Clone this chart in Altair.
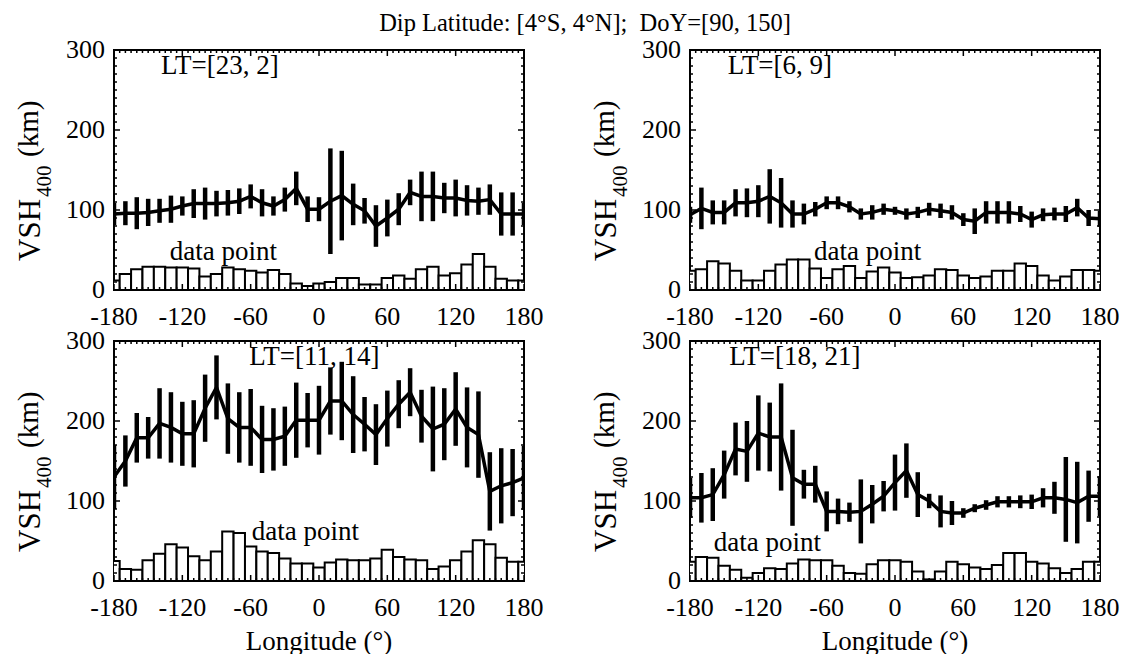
import altair as alt
import pandas as pd

FONT = "Liberation Serif"
W, H = 410, 240

lon = list(range(-180, 181, 10))

# LT=[23, 2]
vsh_a = [95, 96, 96, 97, 99, 101, 105, 108, 108, 108, 109, 111, 117, 109, 105, 113, 127, 101, 101,
         111, 118, 107, 99, 80, 90, 101, 122, 117, 117, 115, 115, 112, 111, 113, 95, 95, 95]
err_a = [14, 15, 20, 17, 15, 17, 12, 18, 20, 16, 16, 16, 15, 17, 12, 15, 21, 16, 15,
         66, 56, 26, 16, 26, 23, 20, 16, 31, 31, 19, 23, 19, 17, 19, 27, 27, 14]
cnt_a = [12, 20, 26, 29, 29, 28, 28, 27, 17, 20, 28, 26, 24, 22, 25, 20, 8, 5, 8,
         10, 15, 15, 7, 7, 15, 18, 14, 26, 29, 18, 21, 32, 45, 29, 14, 12, 12]

# LT=[6, 9]
vsh_b = [94, 102, 97, 97, 109, 109, 111, 117, 109, 95, 95, 101, 109, 109, 104, 95, 97, 101, 99,
         95, 97, 101, 99, 97, 88, 86, 97, 97, 97, 95, 88, 94, 95, 95, 103, 90, 89]
err_b = [10, 26, 15, 15, 17, 18, 20, 34, 31, 17, 13, 9, 8, 8, 7, 7, 9, 7, 5,
         7, 7, 8, 9, 9, 8, 16, 14, 14, 14, 10, 10, 8, 8, 10, 11, 10, 10]
cnt_b = [24, 26, 36, 33, 24, 12, 12, 24, 32, 38, 38, 27, 15, 26, 30, 15, 23, 28, 22,
         15, 16, 18, 26, 25, 18, 15, 17, 24, 24, 33, 30, 18, 12, 17, 25, 25, 24]

# LT=[11, 14]
vsh_c = [130, 150, 179, 179, 197, 192, 184, 184, 216, 242, 203, 192, 192, 177, 177, 181, 201, 201, 201,
         225, 225, 208, 196, 183, 203, 221, 236, 206, 190, 196, 215, 192, 183, 112, 119, 123, 129]
err_c = [40, 32, 31, 26, 44, 44, 40, 42, 42, 40, 44, 44, 48, 42, 39, 37, 47, 34, 43,
         42, 49, 48, 34, 38, 35, 30, 30, 33, 53, 45, 46, 50, 54, 49, 47, 42, 40]
cnt_c = [25, 15, 14, 26, 34, 46, 42, 31, 26, 37, 62, 60, 43, 37, 35, 28, 22, 22, 17,
         23, 27, 26, 26, 28, 39, 30, 27, 26, 15, 18, 26, 37, 51, 46, 29, 24, 24]

# LT=[18, 21]
vsh_d = [104, 104, 108, 133, 165, 162, 185, 180, 180, 129, 121, 121, 87, 87, 86, 87, 96, 106, 123,
         138, 108, 100, 87, 85, 85, 91, 95, 99, 99, 99, 99, 104, 104, 102, 98, 106, 106]
err_d = [25, 31, 33, 30, 33, 38, 47, 43, 67, 60, 18, 23, 25, 16, 12, 40, 24, 19, 35,
         34, 28, 9, 20, 15, 6, 5, 6, 7, 7, 8, 9, 12, 20, 53, 51, 32, 25]
cnt_d = [24, 30, 29, 19, 14, 4, 10, 16, 15, 22, 27, 26, 26, 19, 10, 9, 21, 26, 26,
         24, 12, 2, 12, 24, 21, 17, 15, 20, 35, 35, 24, 22, 16, 10, 15, 24, 24]

lt_labels = ["LT=[23, 2]", "LT=[6, 9]", "LT=[11, 14]", "LT=[18, 21]"]
lt_lon = [-87, -101, -4, -88]
dp_lon = [-84, -24, -12, -112]
dp_val = [47, 47, 61, 47]

x_major = [-180, -120, -60, 0, 60, 120, 180]
x_tick_labels = ["-180", "-120", "-60", "0", "60", "120", "180"]
x_minor = [v for v in range(-180, 181, 5) if v not in x_major]
y_major = [0, 100, 200, 300]
y_tick_labels = ["0", "100", "200", "300"]
y_minor = [v for v in range(0, 301, 10) if v not in y_major]

title_text = "Dip Latitude: [4°S, 4°N];\u00a0 DoY=[90, 150]"
x_title = "Longitude (°)"

xs = alt.Scale(domain=[-180, 180], nice=False, zero=False)
ys = alt.Scale(domain=[0, 300], nice=False, zero=False)


def X(f):
    return alt.X(f, scale=xs, axis=None)


def Y(f):
    return alt.Y(f, scale=ys, axis=None)


def panel(i, vsh, err, cnt, bottom, first):
    df = pd.DataFrame({"lon": lon, "vsh": vsh, "err": err, "cnt": cnt})
    df["lo"] = df["vsh"] - df["err"]
    df["hi"] = df["vsh"] + df["err"]
    df["b0"] = df["lon"] - 5
    df["b1"] = df["lon"] + 5
    base = alt.Chart(df)

    bars = base.mark_bar(fill="white", stroke="black", strokeWidth=2, clip=True).encode(
        x=X("b0:Q"), x2="b1:Q", y=Y("cnt:Q"), y2=alt.datum(0))
    errs = base.mark_rule(color="black", strokeWidth=4.5, clip=True).encode(
        x=X("lon:Q"), y=Y("lo:Q"), y2="hi:Q")
    line = base.mark_line(color="black", strokeWidth=3.5, clip=True).encode(
        x=X("lon:Q"), y=Y("vsh:Q"))

    lt = alt.Chart(pd.DataFrame({"t": [lt_labels[i]], "x": [lt_lon[i]]})).mark_text(
        font=FONT, fontSize=27, baseline="middle", align="center", color="black").encode(
        x=X("x:Q"), y=alt.value(16), text="t:N")
    dp = alt.Chart(pd.DataFrame({"t": ["data point"], "x": [dp_lon[i]], "y": [dp_val[i]]})).mark_text(
        font=FONT, fontSize=27, baseline="middle", align="center", color="black").encode(
        x=X("x:Q"), y=Y("y:Q"), text="t:N")

    # tick labels
    xl = alt.Chart(pd.DataFrame({"v": x_major, "t": x_tick_labels})).mark_text(
        font=FONT, fontSize=26, baseline="alphabetic", align="center", color="black").encode(
        x=X("v:Q"), y=alt.value(H + 35), text="t:N")
    yl = alt.Chart(pd.DataFrame({"v": y_major, "t": y_tick_labels})).mark_text(
        font=FONT, fontSize=26, baseline="middle", align="right", color="black").encode(
        y=Y("v:Q"), x=alt.value(-9), text="t:N")

    yt1 = alt.Chart(pd.DataFrame({"t": ["VSH"]})).mark_text(
        font=FONT, fontSize=31, angle=270, align="left", baseline="alphabetic", color="black",
        x=-74, y=211).encode(text="t:N")
    yt2 = alt.Chart(pd.DataFrame({"t": ["400"]})).mark_text(
        font=FONT, fontSize=21, angle=270, align="left", baseline="alphabetic", color="black",
        x=-63, y=147).encode(text="t:N")
    yt3 = alt.Chart(pd.DataFrame({"t": ["(km)"]})).mark_text(
        font=FONT, fontSize=29, angle=270, align="left", baseline="alphabetic", color="black",
        x=-76, y=107).encode(text="t:N")

    ticks = []
    for vals, ln in ((x_major, 6), (x_minor, 3)):
        d = alt.Chart(pd.DataFrame({"v": vals}))
        ticks.append(d.mark_rule(color="black", strokeWidth=1.5).encode(
            x=X("v:Q"), y=alt.value(H), y2=alt.value(H - ln)))
        ticks.append(d.mark_rule(color="black", strokeWidth=1.5).encode(
            x=X("v:Q"), y=alt.value(0), y2=alt.value(ln)))
    for vals, ln in ((y_major, 6), (y_minor, 3)):
        d = alt.Chart(pd.DataFrame({"v": vals}))
        ticks.append(d.mark_rule(color="black", strokeWidth=1.5).encode(
            y=Y("v:Q"), x=alt.value(0), x2=alt.value(ln)))
        ticks.append(d.mark_rule(color="black", strokeWidth=1.5).encode(
            y=Y("v:Q"), x=alt.value(W), x2=alt.value(W - ln)))

    layers = [bars, errs, line, lt, dp, xl, yl, yt1, yt2, yt3] + ticks
    if bottom:
        xt = alt.Chart(pd.DataFrame({"t": [x_title]})).mark_text(
            font=FONT, fontSize=27, align="center", baseline="alphabetic", color="black",
            x=W / 2, y=H + 69).encode(text="t:N")
        layers.append(xt)
    if first:
        anchor = alt.Chart(pd.DataFrame({"a": [0]})).mark_rule(color="white", strokeWidth=1).encode(
            x=alt.value(-112.5), x2=alt.value(-112.5), y=alt.value(-48.5), y2=alt.value(-47))
        ttl = alt.Chart(pd.DataFrame({"t": [title_text]})).mark_text(
            font=FONT, fontSize=24.5, align="center", baseline="middle", color="black",
            x=471, y=-26).encode(text="t:N")
        layers += [anchor, ttl]
    return alt.layer(*layers).properties(width=W, height=H)


p1 = panel(0, vsh_a, err_a, cnt_a, False, True)
p2 = panel(1, vsh_b, err_b, cnt_b, False, False)
p3 = panel(2, vsh_c, err_c, cnt_c, True, False)
p4 = panel(3, vsh_d, err_d, cnt_d, True, False)

chart = alt.concat(p1, p2, p3, p4, columns=2, spacing={"row": 51, "column": 166},
                   bounds="flush").properties(
    padding=0, background="white"
).configure_view(
    stroke="black", strokeWidth=2
)

chart.save("out.html", embed_options={"renderer": "svg", "actions": False})
